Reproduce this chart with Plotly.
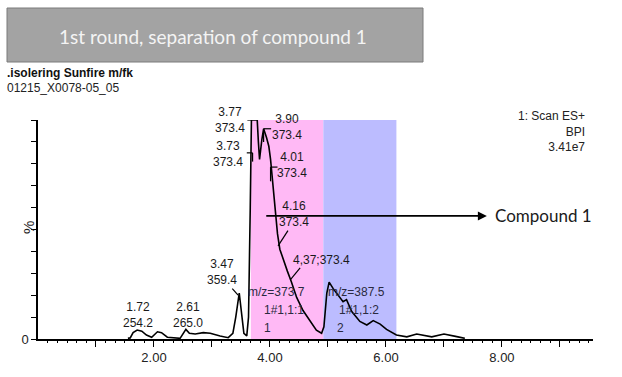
import plotly.graph_objects as go

# ---------------- data ----------------
time_min = [1.55, 1.59, 1.64, 1.71, 1.79, 1.87, 1.96, 2.06, 2.13, 2.23, 2.45, 2.52, 2.55, 2.61,
            2.71, 2.85, 2.97, 3.14, 3.28, 3.36, 3.41, 3.47, 3.51, 3.55, 3.60, 3.63, 3.66, 3.68,
            3.71, 3.78, 3.80, 3.82, 3.86, 3.89, 3.94, 3.98, 4.01, 4.05, 4.09, 4.13, 4.17, 4.23,
            4.30, 4.37, 4.46, 4.57, 4.69, 4.80, 4.89, 4.93, 4.98, 5.02, 5.09, 5.18, 5.26, 5.32,
            5.41, 5.55, 5.67, 5.78, 5.90, 6.01, 6.18, 6.36, 6.53, 6.79, 7.00, 7.20, 7.36]
intensity = [0.3, 0.5, 2.9, 4.1, 3.6, 1.8, 0.8, 3.3, 2.9, 0.8, 0.3, 2.9, 4.4, 2.6,
             2.3, 2.9, 2.6, 1.4, 0.6, 2.6, 10, 21, 13, 2.6, 1.4, 10, 60, 100,
             100, 100, 90, 82, 91, 96, 92, 88, 82, 71, 60, 48, 41, 36,
             31, 26, 19, 13, 8, 4, 2.6, 5.6, 21, 26, 23, 20, 17, 18,
             12.5, 8, 6.4, 8.4, 6.8, 4.4, 1.8, 1.0, 2.3, 1.0, 2.3, 1.2, 0.3]

# fraction windows (min)
frac_start = [3.67, 4.92]
frac_end = [4.92, 6.18]
frac_color = ["rgba(255,185,245,1)", "rgba(188,188,255,1)"]

# peak labels: (time, intensity, text, xanchor)
peak_labels = [
    (3.60, 100.0, "3.77<br>373.4", "right"),
    (3.57, 84.7, "3.73<br>373.4", "right"),
    (4.29, 97.0, "3.90<br>373.4", "center"),
    (4.38, 79.5, "4.01<br>373.4", "center"),
    (4.41, 57.3, "4.16<br>373.4", "center"),
    (4.88, 36.0, "4,37;373.4", "center"),
    (3.17, 30.6, "3.47<br>359.4", "center"),
    (1.72, 11.0, "1.72<br>254.2", "center"),
    (2.59, 11.0, "2.61<br>265.0", "center"),
]
frac_labels = [
    (4.12, 21.5, "m/z=373.7"), (4.24, 13.2, "1#1,1:1"), (3.95, 5.0, "1"),
    (5.50, 21.5, "m/z=387.5"), (5.53, 13.2, "1#1,1:2"), (5.21, 5.0, "2"),
]
# leader lines (t0, i0, t1, i1)
leaders = [
    (3.35, 23.0, 3.45, 20.0),
    (4.31, 49.5, 4.14, 42.5),
    (4.52, 32.5, 4.35, 27.0),
    (3.61, 100.0, 3.69, 100.0),
    (3.60, 85.0, 3.70, 85.0), (3.70, 85.0, 3.70, 81.0),
    (3.89, 96.0, 4.02, 96.0), (3.89, 96.0, 3.89, 90.0),
    (4.01, 78.5, 4.13, 78.5), (4.01, 78.5, 4.01, 72.0),
]
x_ticks = [1, 2, 3, 4, 5, 6, 7, 8, 9]
x_ticktext = ["", "2.00", "", "4.00", "", "6.00", "", "8.00", ""]
x_minor_step = 1 / 6
x_max = 9.57
y_ticks = [0, 10, 20, 30, 40, 50, 60, 70, 80, 90, 100]
y_ticktext = ["0"] + [""] * 10

arrow_from = (3.91, 56.2)
arrow_to = (7.74, 56.2)

x_minor = [round(k * x_minor_step, 4) for k in range(1, int(x_max / x_minor_step) + 1)
           if k % 6 != 0]

# ---------------- figure ----------------
fig = go.Figure()
fig.add_trace(go.Scatter(x=time_min, y=intensity, mode="lines",
                         line=dict(color="black", width=1.6), hoverinfo="skip",
                         showlegend=False, cliponaxis=False))
# invisible trace to carry the minor-tick axis
fig.add_trace(go.Scatter(x=[0, x_max], y=[0, 0], xaxis="x2", mode="lines",
                         line=dict(width=0), hoverinfo="skip", showlegend=False))

for s, e, c in zip(frac_start, frac_end, frac_color):
    fig.add_shape(type="rect", xref="x", yref="y", x0=s, x1=e, y0=0, y1=100,
                  fillcolor=c, line_width=0, layer="below")

lab_font = dict(family="Liberation Sans, Arial", size=12, color="#1a1a1a")
for t, i, txt, xa in peak_labels:
    fig.add_annotation(x=t, y=i, text=txt, showarrow=False, xanchor=xa, yanchor="middle",
                       font=lab_font, align="center")
for t, i, txt in frac_labels:
    fig.add_annotation(x=t, y=i, text=txt, showarrow=False, xanchor="center", yanchor="middle",
                       font=dict(family="Liberation Sans, Arial", size=12, color="#2a2a40"))
for t0, i0, t1, i1 in leaders:
    fig.add_shape(type="line", xref="x", yref="y", x0=t0, y0=i0, x1=t1, y1=i1,
                  line=dict(color="black", width=1.2))

# arrow to "Compound 1"
fig.add_annotation(x=arrow_to[0], y=arrow_to[1], ax=arrow_from[0], ay=arrow_from[1],
                   xref="x", yref="y", axref="x", ayref="y", text="", showarrow=True,
                   arrowhead=2, arrowsize=1, arrowwidth=1.8, arrowcolor="black")
fig.add_annotation(x=7.84, y=56.2, text="Compound 1", showarrow=False, xanchor="left",
                   yanchor="middle", font=dict(family="Lato", size=17, color="#1a1a1a"))

# header elements (paper coords relative to plot area)
W, L, H, B = 555.0, 38.0, 219.0, 339.0
def px(x):
    return (x - L) / W
def py(y):
    return (B - y) / H

fig.add_shape(type="rect", xref="paper", yref="paper", x0=px(7), x1=px(423), y0=py(62), y1=py(8),
              fillcolor="#a3a3a3", line=dict(color="#7a7a7a", width=1))
fig.add_annotation(xref="paper", yref="paper", x=px(213), y=py(36), xanchor="center", yanchor="middle",
                   text="1st round, separation of compound 1",
                   showarrow=False, font=dict(family="Lato", size=19, color="#f4f4f4"))
fig.add_annotation(xref="paper", yref="paper", x=px(5), y=py(73), xanchor="left", yanchor="middle",
                   text="<b>.isolering Sunfire m/fk</b>", showarrow=False,
                   font=dict(family="Liberation Sans, Arial", size=12, color="#111"))
fig.add_annotation(xref="paper", yref="paper", x=px(5), y=py(88), xanchor="left", yanchor="middle",
                   text="01215_X0078-05_05", showarrow=False,
                   font=dict(family="Liberation Sans, Arial", size=12, color="#222"))
fig.add_annotation(xref="paper", yref="paper", x=px(587), y=py(131), xanchor="right", yanchor="middle",
                   text="1: Scan ES+<br>BPI<br>3.41e7", showarrow=False, align="right",
                   font=dict(family="Liberation Sans, Arial", size=12, color="#222"))
fig.add_annotation(xref="paper", yref="paper", x=px(28), y=py(228), xanchor="center", yanchor="middle",
                   text="%", textangle=-90,
                   showarrow=False, font=dict(family="Liberation Sans, Arial", size=15, color="#222"))

fig.update_layout(
    width=622, height=377,
    margin=dict(l=38, r=29, t=120, b=38, pad=0),
    paper_bgcolor="white", plot_bgcolor="white",
    xaxis=dict(range=[0, x_max], showgrid=False, zeroline=False, showline=True,
               linecolor="black", linewidth=1.5, ticks="outside", ticklen=6, tickwidth=1.2,
               tickcolor="black", tickvals=x_ticks, ticktext=x_ticktext,
               tickfont=dict(family="Liberation Sans, Arial", size=13, color="#222")),
    xaxis2=dict(range=[0, x_max], overlaying="x", anchor="y", side="bottom",
                showgrid=False, zeroline=False, showline=False, ticks="outside", ticklen=3,
                tickwidth=1, tickcolor="black", tickvals=x_minor, showticklabels=False),
    yaxis=dict(range=[0, 100], showgrid=False, zeroline=False, showline=True,
               linecolor="black", linewidth=1.5, ticks="outside", ticklen=5, tickwidth=1.2,
               tickcolor="black", tickvals=y_ticks, ticktext=y_ticktext,
               tickfont=dict(family="Liberation Sans, Arial", size=13, color="#222")),
)

fig.write_html("out.html")
